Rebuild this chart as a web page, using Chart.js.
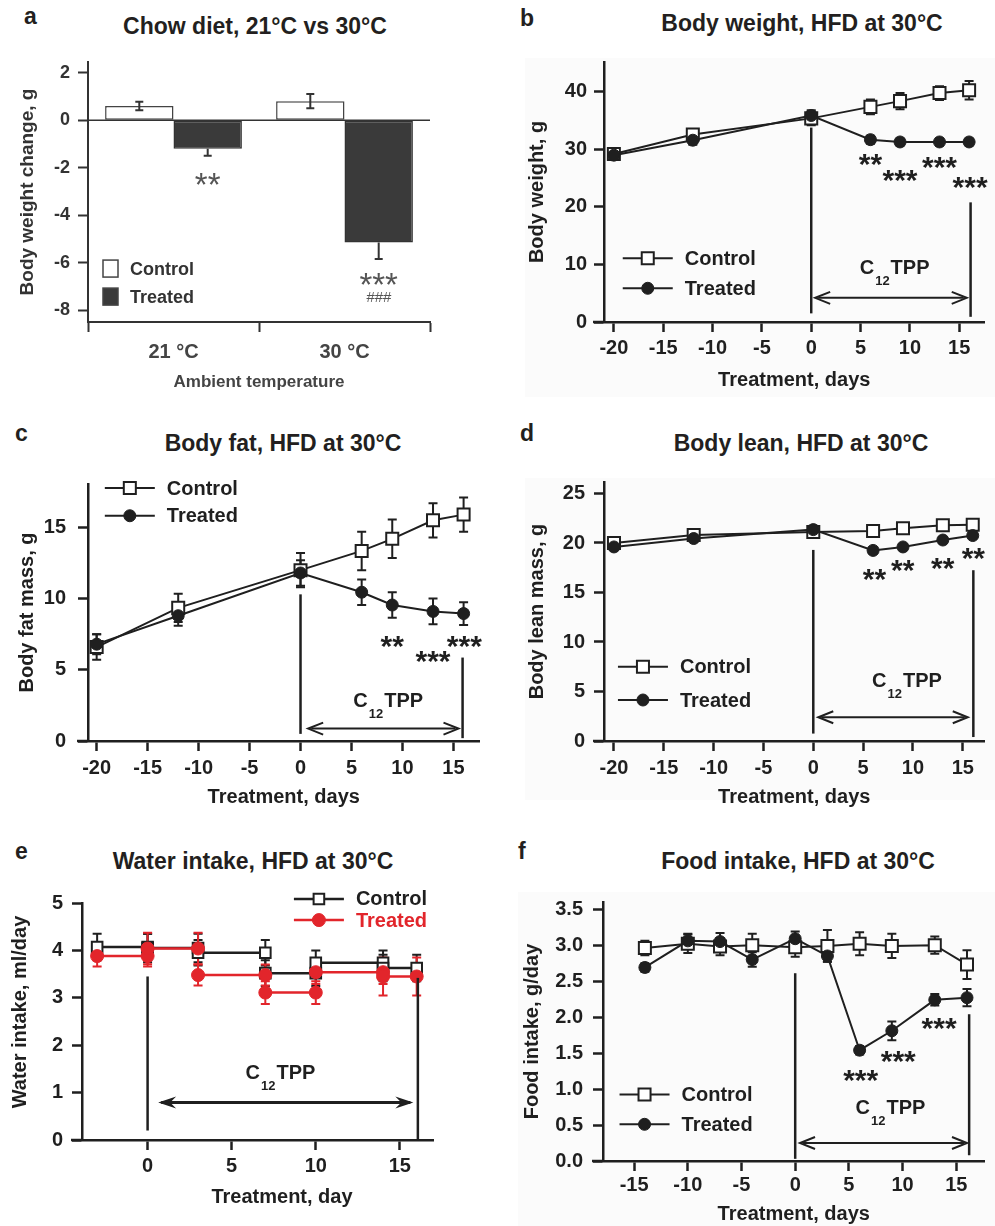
<!DOCTYPE html>
<html>
<head>
<meta charset="utf-8">
<script src="https://cdn.jsdelivr.net/npm/chart.js@4.4.1/dist/chart.umd.min.js"></script>
<style>
  body { margin: 0; background: #fff; }
  #fig { position: relative; width: 995px; height: 1226px; overflow: hidden; font-family: 'Liberation Sans', Arial, sans-serif; color: #231f20; }
  #fig canvas, #fig .txt, #fig .shade { position: absolute; }
  .txt { font-weight: bold; font-size: 23px; line-height: 1; white-space: nowrap; }
  .ttl { transform: translateX(-50%); }
  .shade { background: #fbfbfb; }
</style>
</head>
<body>
<div id="fig">
  <div class="shade" style="left:525px;top:58px;width:470px;height:339px"></div>
  <div class="shade" style="left:525px;top:478px;width:470px;height:322px"></div>
  <div class="shade" style="left:518px;top:892px;width:477px;height:334px"></div>

  <div class="txt" style="left:24px;top:5px">a</div>
  <div class="txt ttl" style="left:255px;top:15px">Chow diet, 21°C vs 30°C</div>
  <div class="txt" style="left:520px;top:7px">b</div>
  <div class="txt ttl" style="left:802px;top:12px">Body weight, HFD at 30°C</div>
  <div class="txt" style="left:15px;top:422px">c</div>
  <div class="txt ttl" style="left:283px;top:432px">Body fat, HFD at 30°C</div>
  <div class="txt" style="left:520px;top:422px">d</div>
  <div class="txt ttl" style="left:801px;top:432px">Body lean, HFD at 30°C</div>
  <div class="txt" style="left:15px;top:840px">e</div>
  <div class="txt ttl" style="left:253px;top:850px">Water intake, HFD at 30°C</div>
  <div class="txt" style="left:518px;top:840px">f</div>
  <div class="txt ttl" style="left:798px;top:850px">Food intake, HFD at 30°C</div>

  <canvas id="pa" width="480" height="360" style="left:0;top:40px"></canvas>
  <canvas id="pb" width="505" height="360" style="left:490px;top:40px"></canvas>
  <canvas id="pc" width="490" height="350" style="left:0;top:460px"></canvas>
  <canvas id="pd" width="505" height="350" style="left:490px;top:460px"></canvas>
  <canvas id="pe" width="480" height="346" style="left:0;top:880px"></canvas>
  <canvas id="pf" width="505" height="346" style="left:490px;top:880px"></canvas>
</div>
<script>
const FONT = "'Liberation Sans', Arial, Helvetica, sans-serif";
const INK = '#1f1f1f';
const RED = '#e2252b';
Chart.defaults.font.family = FONT;

// a: chow diet, body weight change
const chowGroups = ['21 °C', '30 °C'];
const chowControl = [0.6, 0.8];
const chowControlErr = [0.18, 0.3];
const chowTreated = [-1.2, -5.15];
const chowTreatedErr = [0.3, 0.7];
const chowTicks = [2, 0, -2, -4, -6, -8];
const chowMarks = [{i: 0, v: -2.39, t: '**'}, {i: 1, v: -6.6, t: '***'}, {i: 1, v: -7.5, t: '###'}];

// b-d: HFD at 30°C, measured days
const hfdDays = [-20, -12, 0, 6, 9, 13, 16];
const hfdDayTicks = [-20, -15, -10, -5, 0, 5, 10, 15];

const bwControl = [29.2, 32.6, 35.4, 37.4, 38.4, 39.8, 40.3];
const bwControlErr = [0.8, 0.9, 1.2, 1.3, 1.4, 1.2, 1.6];
const bwTreated = [29.0, 31.6, 35.9, 31.7, 31.3, 31.3, 31.3];
const bwTreatedErr = [0.8, 0.8, 0.9, 0.7, 0.6, 0.6, 0.6];
const bwTicks = [0, 10, 20, 30, 40];
const bwStars = [{x: 6, y: 28.7, t: '**'}, {x: 9, y: 25.9, t: '***'}, {x: 13, y: 28.2, t: '***'}, {x: 16.1, y: 24.7, t: '***'}];

const fatControl = [6.6, 9.35, 12.0, 13.35, 14.2, 15.5, 15.9];
const fatControlErr = [0.9, 1.0, 1.2, 1.35, 1.35, 1.2, 1.2];
const fatTreated = [6.8, 8.8, 11.8, 10.45, 9.55, 9.1, 8.95];
const fatTreatedErr = [0.7, 0.7, 0.9, 0.9, 0.9, 0.9, 0.8];
const fatTicks = [0, 5, 10, 15];
const fatStars = [{x: 9, y: 7.16, t: '**'}, {x: 13, y: 6.11, t: '***'}, {x: 16.07, y: 7.16, t: '***'}];

const leanControl = [20.0, 20.8, 21.1, 21.2, 21.5, 21.8, 21.85];
const leanControlErr = [0.3, 0.3, 0.4, 0.3, 0.3, 0.3, 0.3];
const leanTreated = [19.6, 20.45, 21.35, 19.25, 19.6, 20.3, 20.75];
const leanTreatedErr = [0.3, 0.3, 0.4, 0.3, 0.3, 0.3, 0.3];
const leanTicks = [0, 5, 10, 15, 20, 25];
const leanStars = [{x: 6.14, y: 17.1, t: '**'}, {x: 8.97, y: 17.95, t: '**'}, {x: 12.98, y: 18.2, t: '**'}, {x: 16.06, y: 19.2, t: '**'}];

// e: water intake, averaged over periods
const waterStart = [-3, 0, 3, 7, 10, 14];
const waterEnd = [0, 3, 7, 10, 14, 16];
const waterControl = [4.07, 4.05, 3.95, 3.52, 3.74, 3.63];
const waterControlErr = [0.28, 0.3, 0.27, 0.27, 0.26, 0.28];
const waterTreated = [3.88, 4.04, 3.48, 3.11, 3.54, 3.45];
const waterTreatedErr = [0.22, 0.33, 0.22, 0.24, 0.25, 0.4];
const waterTicks = [0, 1, 2, 3, 4, 5];
const waterDayTicks = [0, 5, 10, 15];

// f: food intake
const foodDays = [-14, -10, -7, -4, 0, 3, 6, 9, 13, 16];
const foodControl = [2.96, 3.02, 2.98, 3.0, 2.97, 2.99, 3.02, 2.99, 3.0, 2.73];
const foodControlErr = [0.1, 0.13, 0.12, 0.16, 0.13, 0.22, 0.16, 0.17, 0.12, 0.2];
const foodTreated = [2.69, 3.06, 3.05, 2.8, 3.09, 2.85, 1.54, 1.81, 2.24, 2.27];
const foodTreatedErr = [0.06, 0.1, 0.12, 0.1, 0.1, 0.08, 0.06, 0.13, 0.08, 0.12];
const foodTicks = [0, 0.5, 1, 1.5, 2, 2.5, 3, 3.5];
const foodDayTicks = [-15, -10, -5, 0, 5, 10, 15];
const foodStars = [{x: 6.1, y: 1.23, t: '***'}, {x: 9.6, y: 1.49, t: '***'}, {x: 13.4, y: 1.95, t: '***'}];

const pts = (xs, ys, es) => xs.map((x, i) => ({x, y: ys[i], err: es[i]}));
const steps = (ys, es) => waterStart.flatMap((s, i) => [
  {x: s, y: ys[i], err: es[i]}, {x: waterEnd[i], y: ys[i], err: es[i]}, {x: waterEnd[i], y: null}
]);

const ctrl = (data, extra) => Object.assign({label: 'Control', data, showLine: true, borderColor: INK, borderWidth: 2,
  pointStyle: 'rect', pointRadius: 8.5, pointBackgroundColor: '#fff', pointBorderColor: INK, pointBorderWidth: 2, order: 1}, extra);
const trt = (data, extra) => Object.assign({label: 'Treated', data, showLine: true, borderColor: INK, borderWidth: 2,
  pointStyle: 'circle', pointRadius: 6, pointBackgroundColor: INK, pointBorderColor: INK, pointBorderWidth: 1, order: 0}, extra);

function marker(ctx, ds, x, y) {
  ctx.beginPath();
  if (ds.pointStyle === 'rect') {
    const s = ds.pointRadius * Math.SQRT1_2;
    ctx.rect(x - s, y - s, 2 * s, 2 * s);
  } else ctx.arc(x, y, ds.pointRadius, 0, Math.PI * 2);
  ctx.fillStyle = ds.pointBackgroundColor;
  ctx.fill();
  ctx.lineWidth = ds.pointBorderWidth;
  ctx.strokeStyle = ds.pointBorderColor;
  ctx.stroke();
}

function drawErrors(chart) {
  const {ctx, scales: {y}} = chart;
  ctx.save();
  ctx.lineWidth = 2;
  chart.data.datasets.forEach((ds, di) => {
    ctx.strokeStyle = ds.borderColor;
    chart.getDatasetMeta(di).data.forEach((el, i) => {
      const d = ds.data[i];
      if (d.y == null || !d.err) return;
      const top = y.getPixelForValue(d.y + d.err), bot = y.getPixelForValue(d.y - d.err);
      ctx.beginPath();
      ctx.moveTo(el.x, top); ctx.lineTo(el.x, bot);
      ctx.moveTo(el.x - 4.5, top); ctx.lineTo(el.x + 4.5, top);
      ctx.moveTo(el.x - 4.5, bot); ctx.lineTo(el.x + 4.5, bot);
      ctx.stroke();
    });
  });
  ctx.restore();
}

function drugLabel(ctx, cx, cy) {
  const big = `bold 20px ${FONT}`, small = `bold 13px ${FONT}`;
  ctx.font = big;
  const wC = ctx.measureText('C').width, wT = ctx.measureText('TPP').width;
  ctx.font = small;
  const w12 = ctx.measureText('12').width;
  let x = cx - (wC + w12 + wT + 2) / 2;
  const base = cy + 7;
  ctx.textAlign = 'left';
  ctx.textBaseline = 'alphabetic';
  ctx.font = big; ctx.fillText('C', x, base); x += wC + 1;
  ctx.font = small; ctx.fillText('12', x, base + 11); x += w12 + 1;
  ctx.font = big; ctx.fillText('TPP', x, base);
}

function arrow(ctx, x0, x1, y, filled) {
  ctx.lineWidth = filled ? 3 : 2;
  ctx.beginPath(); ctx.moveTo(x0 + 3, y); ctx.lineTo(x1 - 3, y); ctx.stroke();
  [[x0, 1], [x1, -1]].forEach(([x, s]) => {
    ctx.beginPath();
    if (filled) {
      ctx.moveTo(x, y); ctx.lineTo(x + s * 18, y - 6); ctx.lineTo(x + s * 12, y); ctx.lineTo(x + s * 18, y + 6);
      ctx.closePath(); ctx.fill();
    } else {
      ctx.moveTo(x + s * 15, y - 6); ctx.lineTo(x, y); ctx.lineTo(x + s * 15, y + 6); ctx.stroke();
    }
  });
}

// drug period lines, arrow, asterisks, in-plot legend
const decor = {
  id: 'decor',
  beforeDatasetsDraw(chart) { drawErrors(chart); },
  afterDatasetsDraw(chart, args, o) {
    const {ctx, chartArea, scales: {x, y}} = chart;
    ctx.save();
    ctx.strokeStyle = ctx.fillStyle = INK;
    // x axis runs a little past the y axis
    ctx.lineWidth = 2.5;
    ctx.beginPath(); ctx.moveTo(chartArea.left - 11, chartArea.bottom); ctx.lineTo(chartArea.left, chartArea.bottom); ctx.stroke();

    (o.vlines || []).forEach(v => {
      const px = x.getPixelForValue(v.x);
      ctx.beginPath(); ctx.moveTo(px, y.getPixelForValue(v.from)); ctx.lineTo(px, y.getPixelForValue(v.to)); ctx.stroke();
    });
    if (o.arrow) arrow(ctx, x.getPixelForValue(o.arrow.from), x.getPixelForValue(o.arrow.to), y.getPixelForValue(o.arrow.y), o.arrow.filled);
    if (o.drug) drugLabel(ctx, x.getPixelForValue(o.drug.x), y.getPixelForValue(o.drug.y));

    ctx.font = `bold 30px ${FONT}`;
    ctx.textAlign = 'center';
    ctx.textBaseline = 'alphabetic';
    (o.stars || []).forEach(s => ctx.fillText(s.t, x.getPixelForValue(s.x), y.getPixelForValue(s.y) + 17));

    if (o.legend) {
      const x0 = x.getPixelForValue(o.legend.x);
      [o.legend.yC, o.legend.yT].forEach((v, i) => {
        const ds = chart.data.datasets[i], py = y.getPixelForValue(v);
        ctx.strokeStyle = ds.borderColor;
        ctx.lineWidth = ds.borderWidth;
        ctx.beginPath(); ctx.moveTo(x0, py); ctx.lineTo(x0 + 50, py); ctx.stroke();
        marker(ctx, ds, x0 + 25, py);
        ctx.fillStyle = ds.borderColor;
        ctx.font = `bold 20px ${FONT}`;
        ctx.textAlign = 'left';
        ctx.textBaseline = 'middle';
        ctx.fillText(ds.label, x0 + 62, py + 1);
      });
    }

    if (o.titles) {
      ctx.fillStyle = INK;
      ctx.font = `bold 20px ${FONT}`;
      ctx.textAlign = 'center';
      ctx.textBaseline = 'middle';
      ctx.fillText(o.titles.x.text, o.titles.x.cx, o.titles.x.cy);
      ctx.translate(o.titles.y.cx, o.titles.y.cy);
      ctx.rotate(-Math.PI / 2);
      ctx.fillText(o.titles.y.text, 0, 0);
    }
    ctx.restore();
  }
};

function axis(s, horizontal) {
  return {
    type: 'linear',
    min: s.min,
    max: s.max,
    afterBuildTicks: sc => { sc.ticks = s.ticks.map(v => ({value: v})); },
    afterFit: sc => { if (horizontal) sc.height = s.size; else sc.width = s.size; },
    border: {display: true, color: INK, width: 2.5},
    grid: {drawOnChartArea: false, drawTicks: true, tickLength: 10, tickWidth: 2.5, tickColor: INK},
    ticks: {color: INK, font: {size: 20, weight: 'bold'}, padding: s.pad, autoSkip: false, maxRotation: 0,
      callback: s.fmt || (v => String(v))},
    title: s.title
      ? {display: true, text: s.title, color: INK, font: {size: 20, weight: 'bold'}, padding: s.titlePad}
      : {display: false}
  };
}

function linePanel(id, p) {
  return new Chart(document.getElementById(id), {
    type: 'scatter',
    data: {datasets: p.datasets},
    plugins: [decor],
    options: {
      responsive: false,
      animation: false,
      events: [],
      layout: {padding: p.pad},
      plugins: {legend: {display: false}, tooltip: {enabled: false}, decor: p.decor},
      scales: {x: axis(p.x, true), y: axis(p.y, false)}
    }
  });
}

// ---- panel a
const chowDecor = {
  id: 'chowDecor',
  afterDatasetsDraw(chart) {
    const {ctx, chartArea, scales: {y}} = chart;
    const ink = '#333';
    ctx.save();
    ctx.strokeStyle = ink;
    ctx.lineWidth = 1.5;
    const y0 = y.getPixelForValue(0);
    ctx.beginPath(); ctx.moveTo(chartArea.left, y0); ctx.lineTo(chartArea.right, y0); ctx.stroke();

    ctx.lineWidth = 2;
    chart.data.datasets.forEach((ds, di) => {
      chart.getDatasetMeta(di).data.forEach((el, i) => {
        const v = ds.data[i], e = ds.err[i];
        const a = y.getPixelForValue(ds.both ? v + e : v);
        const b = y.getPixelForValue(v - e);
        ctx.beginPath();
        ctx.moveTo(el.x, a); ctx.lineTo(el.x, b);
        if (ds.both) { ctx.moveTo(el.x - 4, a); ctx.lineTo(el.x + 4, a); }
        ctx.moveTo(el.x - 4, b); ctx.lineTo(el.x + 4, b);
        ctx.stroke();
      });
    });

    const bars = chart.getDatasetMeta(1).data;
    ctx.fillStyle = '#555';
    ctx.textAlign = 'center';
    chowMarks.forEach(m => {
      const px = bars[m.i].x, py = y.getPixelForValue(m.v);
      if (m.t[0] === '#') {
        ctx.font = `italic 15px ${FONT}`;
        ctx.textBaseline = 'middle';
        ctx.fillText(m.t, px, py);
      } else {
        ctx.font = `33px ${FONT}`;
        ctx.textBaseline = 'alphabetic';
        ctx.fillText(m.t, px, py + 19);
      }
    });

    // legend boxes
    const lx = chartArea.left + 15;
    chart.data.datasets.forEach((ds, i) => {
      const py = y.getPixelForValue(i ? -7.43 : -6.25);
      ctx.fillStyle = ds.backgroundColor;
      ctx.fillRect(lx, py - 8.5, 15, 17);
      ctx.strokeStyle = '#444';
      ctx.lineWidth = 1.5;
      ctx.strokeRect(lx, py - 8.5, 15, 17);
      ctx.fillStyle = ink;
      ctx.font = `bold 18px ${FONT}`;
      ctx.textAlign = 'left';
      ctx.textBaseline = 'middle';
      ctx.fillText(ds.label, lx + 27, py + 1);
    });
    ctx.restore();
  }
};

new Chart(document.getElementById('pa'), {
  type: 'bar',
  data: {
    labels: chowGroups,
    datasets: [
      {label: 'Control', data: chowControl, err: chowControlErr, both: true, backgroundColor: '#fff', borderColor: '#444',
        borderWidth: 1.5, borderSkipped: false, categoryPercentage: 0.8, barPercentage: 1},
      {label: 'Treated', data: chowTreated, err: chowTreatedErr, both: false, backgroundColor: '#3a3a3a', borderColor: '#333',
        borderWidth: 1.5, borderSkipped: false, categoryPercentage: 0.8, barPercentage: 1}
    ]
  },
  plugins: [chowDecor],
  options: {
    responsive: false,
    animation: false,
    events: [],
    layout: {padding: {left: 0, top: 22, right: 50, bottom: 0}},
    plugins: {legend: {display: false}, tooltip: {enabled: false}},
    scales: {
      x: {
        afterFit: sc => { sc.height = 78; },
        border: {display: true, color: '#333', width: 2},
        grid: {offset: true, drawOnChartArea: false, tickLength: 10, tickWidth: 2, tickColor: '#333'},
        ticks: {color: '#444', font: {size: 20, weight: 'bold'}, padding: 8},
        title: {display: true, text: 'Ambient temperature', color: '#444', font: {size: 17, weight: 'bold'}, padding: {top: 0, bottom: 7}}
      },
      y: {
        min: -8.5,
        max: 2.45,
        afterBuildTicks: sc => { sc.ticks = chowTicks.map(v => ({value: v})); },
        afterFit: sc => { sc.width = 88; },
        border: {display: true, color: '#333', width: 2},
        grid: {drawOnChartArea: false, tickLength: 10, tickWidth: 2, tickColor: '#333'},
        ticks: {color: '#333', font: {size: 18, weight: 'bold'}, padding: 8},
        title: {display: true, text: 'Body weight change, g', color: '#333', font: {size: 19, weight: 'bold'}, padding: {top: 16, bottom: 0}}
      }
    }
  }
});

// ---- panel b
linePanel('pb', {
  datasets: [ctrl(pts(hfdDays, bwControl, bwControlErr)), trt(pts(hfdDays, bwTreated, bwTreatedErr))],
  pad: {left: 0, top: 22, right: 0, bottom: 0},
  x: {min: -21, max: 17.56, ticks: hfdDayTicks, size: 78, pad: 4, title: 'Treatment, days', titlePad: {top: 0, bottom: 8}},
  y: {min: 0, max: 45.2, ticks: bwTicks, size: 114, pad: 7, title: 'Body weight, g', titlePad: {top: 35, bottom: 0}},
  decor: {
    vlines: [{x: 0, from: 33.8, to: 1.5}, {x: 16.15, from: 20.8, to: 0.9}],
    arrow: {from: 0.4, to: 15.76, y: 4.2},
    drug: {x: 8.45, y: 9.6},
    stars: bwStars,
    legend: {x: -19.1, yC: 11.1, yT: 5.86}
  }
});

// ---- panel c
linePanel('pc', {
  datasets: [ctrl(pts(hfdDays, fatControl, fatControlErr)), trt(pts(hfdDays, fatTreated, fatTreatedErr))],
  pad: {left: 0, top: 22, right: 8, bottom: 0},
  x: {min: -20.85, max: 17.56, ticks: hfdDayTicks, size: 69, pad: 5, title: 'Treatment, days', titlePad: {top: 0, bottom: 1}},
  y: {min: 0, max: 18.05, ticks: fatTicks, size: 88, pad: 12, title: 'Body fat mass, g', titlePad: {top: 15, bottom: 0}},
  decor: {
    vlines: [{x: 0, from: 10.3, to: 0.5}, {x: 15.9, from: 5.86, to: 0.2}],
    arrow: {from: 0.75, to: 15.5, y: 0.87},
    drug: {x: 8.6, y: 2.86},
    stars: fatStars,
    legend: {x: -19.2, yC: 17.77, yT: 15.82}
  }
});

// ---- panel d
linePanel('pd', {
  datasets: [ctrl(pts(hfdDays, leanControl, leanControlErr)), trt(pts(hfdDays, leanTreated, leanTreatedErr))],
  pad: {left: 0, top: 22, right: 0, bottom: 0},
  x: {min: -21, max: 17.18, ticks: hfdDayTicks, size: 69, pad: 5, title: 'Treatment, days', titlePad: {top: 0, bottom: 1}},
  y: {min: 0, max: 26.16, ticks: leanTicks, size: 114, pad: 9, title: 'Body lean mass, g', titlePad: {top: 35, bottom: 0}},
  decor: {
    vlines: [{x: 0, from: 19.3, to: 0.75}, {x: 16.06, from: 17.25, to: 0.4}],
    arrow: {from: 0.5, to: 15.5, y: 2.4},
    drug: {x: 9.4, y: 6.17},
    stars: leanStars,
    legend: {x: -19.6, yC: 7.5, yT: 4.14}
  }
});

// ---- panel e
linePanel('pe', {
  datasets: [
    ctrl(steps(waterControl, waterControlErr), {borderWidth: 2.5, pointRadius: 7.5, spanGaps: false}),
    trt(steps(waterTreated, waterTreatedErr), {borderColor: RED, borderWidth: 2.5, pointRadius: 6.5,
      pointBackgroundColor: RED, pointBorderColor: RED, spanGaps: false})
  ],
  pad: {left: 0, top: 23, right: 47, bottom: 0},
  x: {min: -3.9, max: 16.97, ticks: waterDayTicks, size: 86, pad: 4},
  y: {min: 0, max: 5, ticks: waterTicks, size: 82, pad: 9},
  decor: {
    vlines: [{x: 0, from: 3.45, to: 0.2}, {x: 16.07, from: 3.42, to: 0}],
    arrow: {from: 0.63, to: 15.8, y: 0.79, filled: true},
    drug: {x: 7.9, y: 1.44},
    legend: {x: 8.7, yC: 5.085, yT: 4.64},
    titles: {x: {text: 'Treatment, day', cx: 282, cy: 317}, y: {text: 'Water intake, ml/day', cx: 20, cy: 132}}
  }
});

// ---- panel f
linePanel('pf', {
  datasets: [ctrl(pts(foodDays, foodControl, foodControlErr)), trt(pts(foodDays, foodTreated, foodTreatedErr))],
  pad: {left: 0, top: 20, right: 0, bottom: 0},
  x: {min: -17.9, max: 17.63, ticks: foodDayTicks, size: 65, pad: 2, title: 'Treatment, days', titlePad: {top: 0, bottom: 0}},
  y: {min: 0, max: 3.6, ticks: foodTicks, size: 113, pad: 10, fmt: v => v.toFixed(1), title: 'Food intake, g/day', titlePad: {top: 30, bottom: 0}},
  decor: {
    vlines: [{x: 0, from: 2.61, to: 0.03}, {x: 16.2, from: 2.04, to: 0.08}],
    arrow: {from: 0.45, to: 16.0, y: 0.25},
    drug: {x: 8.87, y: 0.75},
    stars: foodStars,
    legend: {x: -16.36, yC: 0.924, yT: 0.51}
  }
});
</script>
</body>
</html>
